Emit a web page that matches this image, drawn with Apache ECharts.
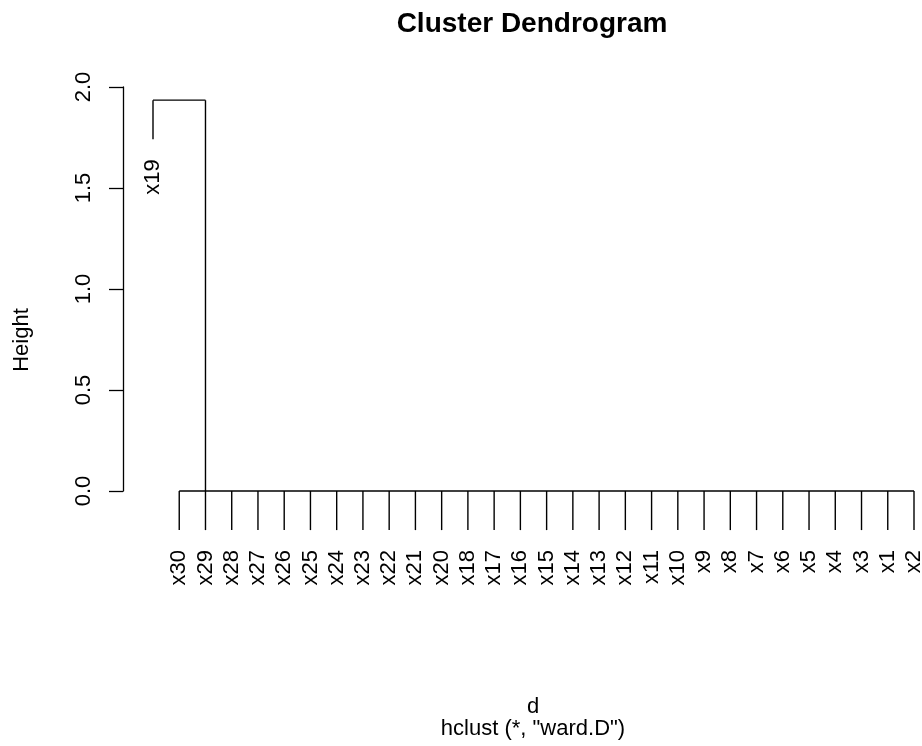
<!DOCTYPE html>
<html>
<head>
<meta charset="utf-8">
<script src="https://cdn.jsdelivr.net/npm/echarts@6/dist/echarts.min.js"></script>
<style>
  html, body { margin: 0; padding: 0; background: #fff; }
  #chart { width: 922px; height: 746px; }
</style>
</head>
<body>
<div id="chart"></div>
<script>
// leaf order as drawn by the dendrogram, left to right
const leafLabels = ['x19', 'x30', 'x29', 'x28', 'x27', 'x26', 'x25', 'x24', 'x23', 'x22',
  'x21', 'x20', 'x18', 'x17', 'x16', 'x15', 'x14', 'x13', 'x12', 'x11',
  'x10', 'x9', 'x8', 'x7', 'x6', 'x5', 'x4', 'x3', 'x1', 'x2']
// merge heights: the final join of x19 with the rest, and the joins inside the big cluster
const rootHeight = 1.935
const innerHeight = 0.0
const rootChild = 'x29'          // where the big cluster's node sits
const hang = 0.1 * rootHeight    // R's hang = 0.1
const yTicks = [0, 0.5, 1, 1.5, 2]

const font = "'Liberation Sans', Arial, Helvetica, sans-serif"

// segments of the tree, in data units
const pos = (label) => leafLabels.indexOf(label) + 1
const segments = []
const single = pos('x19')
const node = pos(rootChild)
segments.push([single, rootHeight, node, rootHeight])
segments.push([single, rootHeight, single, rootHeight - hang])
segments.push([node, rootHeight, node, innerHeight])
segments.push([2, innerHeight, leafLabels.length, innerHeight])
for (let i = 2; i <= leafLabels.length; i++) {
  segments.push([i, innerHeight, i, innerHeight - hang])
}

const labelData = leafLabels.map((name, i) => [
  i + 1,
  (name === 'x19' ? rootHeight : innerHeight) - hang,
  name,
])

const chart = echarts.init(document.getElementById('chart'))
chart.setOption({
  animation: false,
  grid: { left: 153, right: 8, top: 87, bottom: 255 },
  xAxis: { type: 'value', min: 1, max: leafLabels.length, show: false },
  yAxis: {
    type: 'value', min: yTicks[0], max: yTicks[yTicks.length - 1], interval: 0.5,
    offset: 30,
    axisLine: { show: true, lineStyle: { color: '#000', width: 1.3 } },
    axisTick: { show: true, length: 14, lineStyle: { color: '#000', width: 1.3 } },
    splitLine: { show: false },
    axisLabel: {
      rotate: 90, margin: 28, color: '#000', fontSize: 22, fontFamily: font,
      formatter: (v) => v.toFixed(1),
    },
  },
  graphic: [
    { type: 'text', x: 532, y: 24, style: { text: 'Cluster Dendrogram', font: 'bold 28px ' + font, fill: '#000', align: 'center', verticalAlign: 'middle' } },
    { type: 'text', x: 22, y: 340, rotation: Math.PI / 2, style: { text: 'Height', font: '22px ' + font, fill: '#000', align: 'center', verticalAlign: 'middle' } },
    { type: 'text', x: 533, y: 707, style: { text: 'd', font: '22px ' + font, fill: '#000', align: 'center', verticalAlign: 'middle' } },
    { type: 'text', x: 533, y: 729, style: { text: 'hclust (*, "ward.D")', font: '22px ' + font, fill: '#000', align: 'center', verticalAlign: 'middle' } },
  ],
  series: [
    {
      type: 'custom',
      clip: false,
      encode: { x: [0, 2], y: [1, 3] },
      data: segments,
      renderItem: (params, api) => {
        const a = api.coord([api.value(0), api.value(1)])
        const b = api.coord([api.value(2), api.value(3)])
        return {
          type: 'line',
          shape: { x1: a[0], y1: a[1], x2: b[0], y2: b[1] },
          style: { stroke: '#000', lineWidth: 1.4 },
        }
      },
    },
    {
      type: 'custom',
      clip: false,
      encode: { x: 0, y: 1 },
      data: labelData,
      renderItem: (params, api) => {
        const p = api.coord([api.value(0), api.value(1)])
        return {
          type: 'text',
          x: p[0],
          y: p[1] + 20,
          rotation: Math.PI / 2,
          style: {
            text: labelData[params.dataIndex][2],
            font: '22px ' + font, fill: '#000',
            align: 'right', verticalAlign: 'middle',
          },
        }
      },
    },
  ],
})
</script>
</body>
</html>
